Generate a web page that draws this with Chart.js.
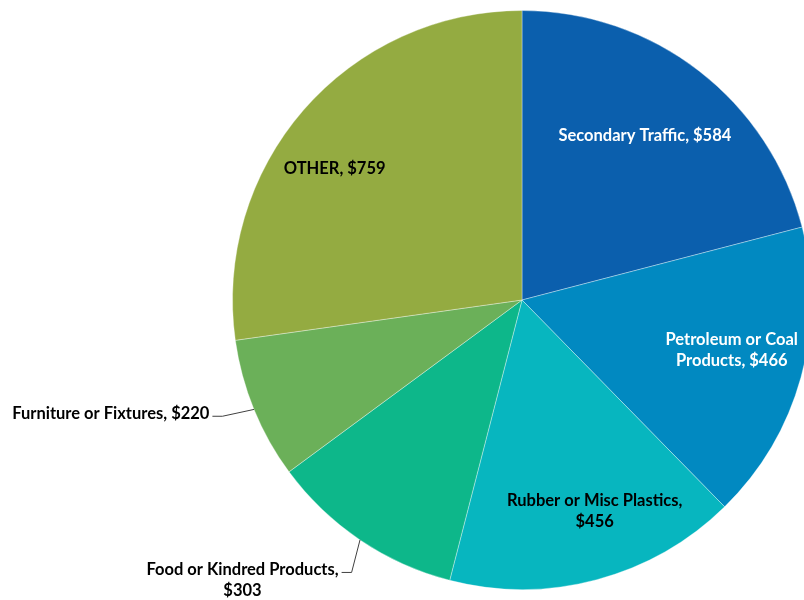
<!DOCTYPE html>
<html>
<head>
<meta charset="utf-8">
<script src="https://cdn.jsdelivr.net/npm/chart.js@4.4.1/dist/chart.umd.min.js"></script>
<style>
  html, body { margin: 0; padding: 0; background: #ffffff; width: 804px; height: 600px; overflow: hidden; }
  #wrap { position: absolute; left: 0; top: 0; width: 1044px; height: 600px; }
</style>
</head>
<body>
<div id="wrap"><canvas id="c" width="1044" height="600"></canvas></div>
<script>
// Spending by commodity group (dollars)
const categories = ['Secondary Traffic', 'Petroleum or Coal Products', 'Rubber or Misc Plastics', 'Food or Kindred Products', 'Furniture or Fixtures', 'OTHER'];
const amounts = [584, 466, 456, 303, 220, 759];
const sliceColors = ['#0B5FAD', '#0189C1', '#07B6BF', '#0DB78A', '#6BB059', '#94AB41'];

// Where each slice's label sits: inside at a fraction of the radius, or outside with a leader line
const labelLayout = [
  { inside: true,  r: 0.71,  shift: -1, color: '#ffffff', wrap: 240 },
  { inside: true,  r: 0.745, shift: -2, color: '#ffffff', wrap: 160 },
  { inside: true,  r: 0.772, shift: -4, color: '#000000', wrap: 200 },
  { inside: false, elbow: 1.11, shift: -2, color: '#000000', wrap: 215 },
  { inside: false, elbow: 1.11, shift: 1,  color: '#000000', wrap: 400 }, 
  { inside: true,  r: 0.79,  shift: -6, color: '#000000', wrap: 240 }
];

const LABEL_FONT = 'bold 16.5px Lato';
const LINE_H = 21;

function wrapText(ctx, text, maxW) {
  const words = text.split(' ');
  const lines = [];
  let cur = '';
  for (const w of words) {
    const t = cur ? cur + ' ' + w : w;
    if (cur && ctx.measureText(t).width > maxW) { lines.push(cur); cur = w; }
    else cur = t;
  }
  if (cur) lines.push(cur);
  return lines;
}

const sliceLabels = {
  id: 'sliceLabels',
  afterDatasetsDraw(chart) {
    const ctx = chart.ctx;
    const meta = chart.getDatasetMeta(0);
    ctx.save();
    ctx.font = LABEL_FONT;
    ctx.textBaseline = 'middle';
    meta.data.forEach((arc, i) => {
      const lay = labelLayout[i];
      const text = categories[i] + ', $' + amounts[i];
      const lines = wrapText(ctx, text, lay.wrap);
      const mid = (arc.startAngle + arc.endAngle) / 2;
      const R = arc.outerRadius;
      const cx = arc.x, cy = arc.y;
      ctx.fillStyle = lay.color;
      if (lay.inside) {
        const a = mid + lay.shift * Math.PI / 180;
        const x = cx + R * lay.r * Math.cos(a);
        const y = cy + R * lay.r * Math.sin(a);
        ctx.textAlign = 'center';
        const y0 = y - (lines.length - 1) * LINE_H / 2;
        lines.forEach((ln, k) => ctx.fillText(ln, x, y0 + k * LINE_H));
      } else {
        const sx = cx + R * Math.cos(mid);
        const sy = cy + R * Math.sin(mid);
        const a = mid + lay.shift * Math.PI / 180;
        const ex = cx + R * lay.elbow * Math.cos(a);
        const ey = cy + R * lay.elbow * Math.sin(a);
        const hx = ex - 10;
        ctx.strokeStyle = '#404040';
        ctx.lineWidth = 1;
        ctx.beginPath();
        ctx.moveTo(sx, sy);
        ctx.lineTo(ex, ey);
        ctx.lineTo(hx, ey);
        ctx.stroke();
        const maxW = Math.max(...lines.map(l => ctx.measureText(l).width));
        const tx = hx - 3 - maxW / 2;
        ctx.textAlign = 'center';
        lines.forEach((ln, k) => ctx.fillText(ln, tx, ey - 3 + k * LINE_H));
      }
    });
    ctx.restore();
  }
};

new Chart(document.getElementById('c'), {
  type: 'pie',
  data: {
    labels: categories,
    datasets: [{
      data: amounts,
      backgroundColor: sliceColors,
      borderColor: 'rgba(255,255,255,0.35)',
      borderWidth: 1
    }]
  },
  options: {
    responsive: false,
    animation: false,
    layout: { padding: { top: 10, bottom: 10, left: 0, right: 0 } },
    plugins: {
      legend: { display: false },
      tooltip: { enabled: false }
    }
  },
  plugins: [sliceLabels]
});
</script>
</body>
</html>
